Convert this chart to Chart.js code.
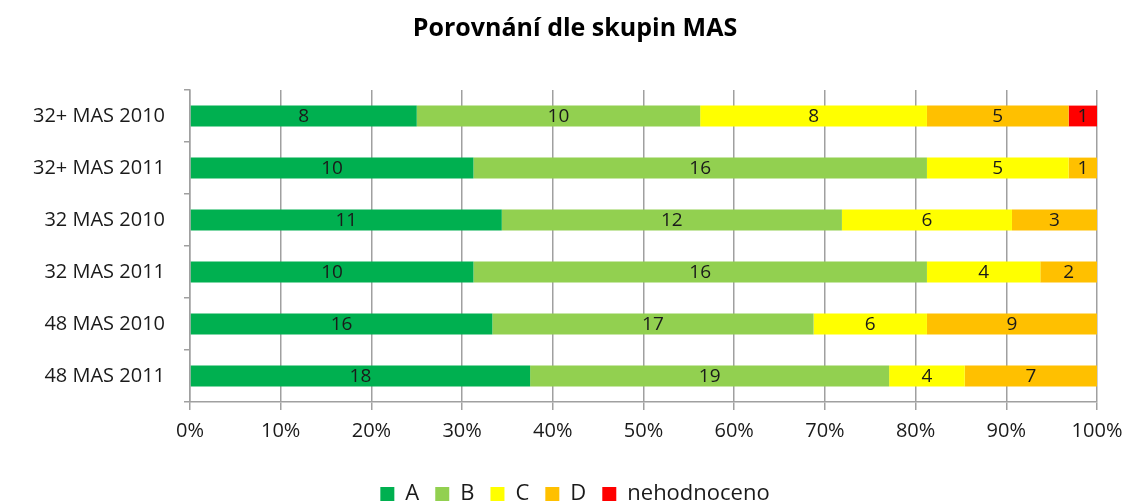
<!DOCTYPE html>
<html>
<head>
<meta charset="utf-8">
<script src="https://cdn.jsdelivr.net/npm/chart.js@4.4.0/dist/chart.umd.min.js"></script>
<style>
  html, body { margin: 0; padding: 0; background: #fff; }
  #wrap { width: 1128px; height: 502px; }
</style>
</head>
<body>
<div id="wrap"><canvas id="chart" width="1128" height="502"></canvas></div>
<script>
// Groups (rows) and counts per rating
const groups = ["32+ MAS 2010", "32+ MAS 2011", "32 MAS 2010", "32 MAS 2011", "48 MAS 2010", "48 MAS 2011"];
const countsA = [8, 10, 11, 10, 16, 18];
const countsB = [10, 16, 12, 16, 17, 19];
const countsC = [8, 5, 6, 4, 6, 4];
const countsD = [5, 1, 3, 2, 9, 7];
const countsN = [1, 0, 0, 0, 0, 0];
const seriesNames = ["A", "B", "C", "D", "nehodnoceno"];
const seriesColors = ["#00B050", "#92D050", "#FFFF00", "#FFC000", "#FF0000"];

const allCounts = [countsA, countsB, countsC, countsD, countsN];
const FONT = "'Open Sans', 'Liberation Sans', sans-serif";

// row totals for the 100% stacking
const totals = groups.map((g, i) => allCounts.reduce((s, arr) => s + arr[i], 0));

const datasets = allCounts.map((arr, k) => ({
  label: seriesNames[k],
  data: arr.map((v, i) => v / totals[i] * 100),
  counts: arr,
  backgroundColor: seriesColors[k],
  borderWidth: 0,
  barPercentage: 0.4,
  categoryPercentage: 1.0
}));

// draws the count in the middle of each segment
const countLabels = {
  id: "countLabels",
  afterDatasetsDraw(chart) {
    const ctx = chart.ctx;
    ctx.save();
    ctx.font = "19px " + FONT;
    ctx.fillStyle = "#1a1a1a";
    ctx.textAlign = "center";
    ctx.textBaseline = "middle";
    chart.data.datasets.forEach((ds, k) => {
      const meta = chart.getDatasetMeta(k);
      meta.data.forEach((bar, i) => {
        const c = ds.counts[i];
        if (!c) return;
        const x = (bar.x + bar.base) / 2;
        ctx.fillText(String(c), x, bar.y + 1);
      });
    });
    ctx.restore();
  }
};

new Chart(document.getElementById("chart"), {
  type: "bar",
  data: { labels: groups, datasets: datasets },
  plugins: [countLabels],
  options: {
    indexAxis: "y",
    responsive: false,
    animation: false,
    layout: { padding: { left: 53, right: 31, top: 0, bottom: -13 } },
    plugins: {
      title: {
        display: true,
        text: "Porovnání dle skupin MAS",
        color: "#000",
        font: { family: FONT, size: 25, weight: "bold" },
        padding: { top: 14, bottom: 46 }
      },
      legend: {
        position: "bottom",
        labels: {
          color: "#1a1a1a",
          font: { family: FONT, size: 22 },
          boxWidth: 14,
          boxHeight: 14,
          padding: 16
        }
      },
      tooltip: { enabled: false }
    },
    scales: {
      x: {
        stacked: true,
        min: 0,
        max: 100,
        ticks: {
          stepSize: 10,
          color: "#1a1a1a",
          font: { family: FONT, size: 20 },
          padding: 9,
          callback: v => v + "%"
        },
        afterFit(scale) {
          scale.height += 15;
          // "100%" may run to the canvas edge
          scale.paddingRight = 0;
        },
        grid: { color: "#a0a0a0", lineWidth: 1.5, tickLength: 8 },
        border: { color: "#a0a0a0", width: 1.5 }
      },
      y: {
        stacked: true,
        ticks: {
          color: "#1a1a1a",
          font: { family: FONT, size: 20 },
          padding: 19
        },
        afterFit(scale) {
          scale.width = 137;
          // let the long category names run past the left edge of the scale box
          scale._computeLabelArea = () => undefined;
        },
        grid: { drawOnChartArea: false, color: "#a0a0a0", lineWidth: 1.5, tickLength: 6 },
        border: { color: "#a0a0a0", width: 1.5 }
      }
    }
  }
});
</script>
</body>
</html>
